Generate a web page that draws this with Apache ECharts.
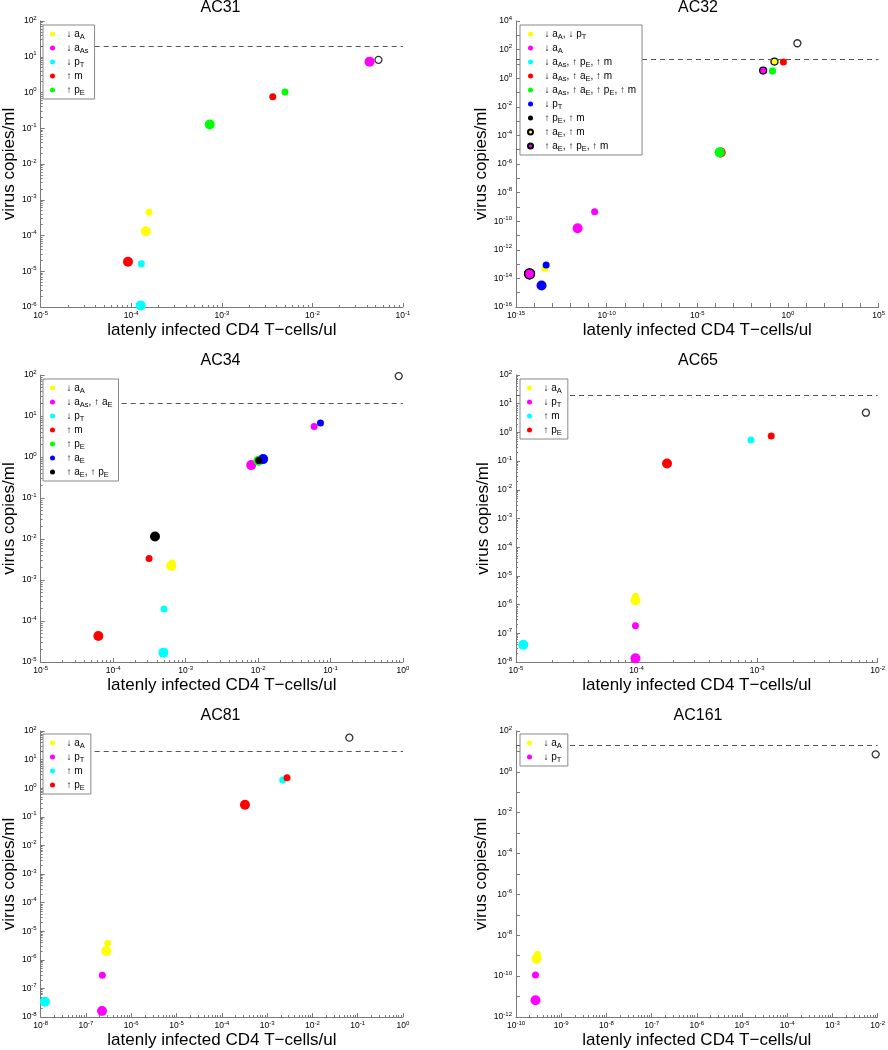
<!DOCTYPE html>
<html><head><meta charset="utf-8">
<script src="https://cdn.jsdelivr.net/npm/echarts@6/dist/echarts.min.js"></script>
<style>html,body{margin:0;padding:0;background:#fff}#c{width:888px;height:1050px}</style>
</head><body><div id="c"></div>
<script>
// ---------------- DATA ----------------
const threshold = 20; // dashed line, virus copies/ml
const xLabel = 'latenly infected CD4 T\u2212cells/ul';
const yLabel = 'virus copies/ml';

// Axis ranges (powers of ten) and label steps (in decades)
const titles   = ['AC31', 'AC32', 'AC34', 'AC65', 'AC81', 'AC161'];
const xMinExp  = [-5, -15, -5, -5, -8, -10];
const xMaxExp  = [-1,   5,  0, -2,  0,  -2];
const yMinExp  = [-6, -16, -5, -8, -8, -12];
const yMaxExp  = [ 2,   4,  2,  2,  2,   2];
const xLabelStep = [1, 5, 1, 1, 1, 1];
const yLabelStep = [1, 2, 1, 1, 1, 2];

// Each legend entry: [first (small) point, second (large) point] as [x, y]
const ac31_names = ['\u2193 a{sub|A}', '\u2193 a{sub|As}', '\u2193 p{sub|T}', '\u2191 m', '\u2191 p{sub|E}'];
const ac31_points = [
  [[1.57e-4, 4.5e-4], [1.45e-4, 1.32e-4]],
  [[0.0440, 7.4], [0.0427, 7.3]],
  [[1.29e-4, 1.62e-5], [1.27e-4, 1.11e-6]],
  [[3.65e-3, 0.757], [9.2e-5, 1.84e-5]],
  [[4.98e-3, 1.04], [7.35e-4, 0.128]]
];
const ac31_base = [0.0536, 8.2];

const ac32_names = [
  '\u2193 a{sub|A}, \u2193 p{sub|T}', '\u2193 a{sub|A}',
  '\u2193 a{sub|As}, \u2191 p{sub|E}, \u2191 m', '\u2193 a{sub|As}, \u2191 a{sub|E}, \u2191 m',
  '\u2193 a{sub|As}, \u2191 a{sub|E}, \u2191 p{sub|E}, \u2191 m', '\u2193 p{sub|T}',
  '\u2191 p{sub|E}, \u2191 m', '\u2191 a{sub|E}, \u2191 m', '\u2191 a{sub|E}, \u2191 p{sub|E}, \u2191 m'
];
const ac32_points = [
  [[3.9e-14, 5.0e-14], [2.6e-14, 3.2e-15]],
  [[2.17e-11, 4.5e-10], [2.5e-12, 3.2e-11]],
  [[0.14, 3.25], [1.72e-4, 6.5e-6]],
  [[0.56, 13.8], [1.95e-4, 6.5e-6]],
  [[0.14, 3.25], [1.72e-4, 6.5e-6]],
  [[4.6e-14, 8.5e-14], [2.56e-14, 3.2e-15]],
  [[0.043, 3.4], [5.6e-15, 2.1e-14]],
  [[0.18, 14.5], [5.6e-15, 2.1e-14]],
  [[0.043, 3.4], [5.6e-15, 2.1e-14]]
];
const ac32_base = [3.3, 277];

const ac34_names = ['\u2193 a{sub|A}', '\u2193 a{sub|As}, \u2191 a{sub|E}', '\u2193 p{sub|T}', '\u2191 m',
  '\u2191 p{sub|E}', '\u2191 a{sub|E}', '\u2191 a{sub|E}, \u2191 p{sub|E}'];
const ac34_points = [
  [[6.5e-4, 2.6e-3], [6.34e-4, 2.21e-3]],
  [[0.0594, 5.58], [0.00804, 0.634]],
  [[5.04e-4, 1.97e-4], [4.93e-4, 1.69e-5]],
  [[3.13e-4, 3.33e-3], [6.25e-5, 4.3e-5]],
  [[0.0115, 0.88], [0.0101, 0.81]],
  [[0.0726, 6.73], [0.01175, 0.889]],
  [[0.0102, 0.82], [3.78e-4, 0.0115]]
];
const ac34_base = [0.873, 94];

const ac65_names = ['\u2193 a{sub|A}', '\u2193 p{sub|T}', '\u2191 m', '\u2191 p{sub|E}'];
const ac65_points = [
  [[9.8e-5, 1.95e-6], [9.8e-5, 1.38e-6]],
  [[9.8e-5, 1.85e-7], [9.8e-5, 1.34e-8]],
  [[8.9e-4, 0.54], [1.15e-5, 4.0e-8]],
  [[1.31e-3, 0.745], [1.79e-4, 0.083]]
];
const ac65_base = [8.0e-3, 4.85];

const ac81_names = ['\u2193 a{sub|A}', '\u2193 p{sub|T}', '\u2191 m', '\u2191 p{sub|E}'];
const ac81_points = [
  [[3.01e-7, 3.77e-6], [2.81e-7, 2.03e-6]],
  [[2.3e-7, 2.86e-7], [2.26e-7, 1.62e-8]],
  [[2.21e-3, 1.94], [1.24e-8, 3.44e-8]],
  [[2.75e-3, 2.33], [3.24e-4, 0.265]]
];
const ac81_base = [0.0653, 58.5];

const ac161_names = ['\u2193 a{sub|A}', '\u2193 p{sub|T}'];
const ac161_points = [
  [[2.99e-10, 1.17e-9], [2.84e-10, 7.2e-10]],
  [[2.7e-10, 1.14e-10], [2.7e-10, 6.6e-12]]
];
const ac161_base = [9.06e-3, 7.2];

// ---------------- STYLES ----------------
const Y = '#ffff00', M = '#ff00ff', Cc = '#00ffff', R = '#ff0000', G = '#00ff00', B = '#0000ff', K = '#000000';
const ac31_colors = [Y, M, Cc, R, G];
const ac32_colors = [Y, M, Cc, R, G, B, K, Y, M];
const ac32_edges  = [0, 0, 0, 0, 0, 0, 0, 1, 1];
const ac34_colors = [Y, M, Cc, R, G, B, K];
const ac65_colors = [Y, M, Cc, R];
const ac81_colors = [Y, M, Cc, R];
const ac161_colors = [Y, M];

const panels = [
  {names: ac31_names, pts: ac31_points, base: ac31_base, colors: ac31_colors},
  {names: ac32_names, pts: ac32_points, base: ac32_base, colors: ac32_colors, edges: ac32_edges},
  {names: ac34_names, pts: ac34_points, base: ac34_base, colors: ac34_colors},
  {names: ac65_names, pts: ac65_points, base: ac65_base, colors: ac65_colors},
  {names: ac81_names, pts: ac81_points, base: ac81_base, colors: ac81_colors},
  {names: ac161_names, pts: ac161_points, base: ac161_base, colors: ac161_colors}
];

const grids = [
  {left: 38, top: 21, width: 365, height: 286},
  {left: 516, top: 21, width: 364, height: 286},
  {left: 38, top: 375, width: 365, height: 287},
  {left: 516, top: 375, width: 364, height: 287},
  {left: 38, top: 731, width: 365, height: 286},
  {left: 516, top: 731, width: 364, height: 286}
];
const titleTop = [0, 0, 353, 353, 708, 708];
const yNameGap = [20, 24, 20, 24, 20, 24];

const FONT = 'Liberation Sans, Arial, Helvetica, sans-serif';
const AXIS_COLOR = '#7a7a7a';
const SMALL = 7, LARGE = 10;

function labelFmt(step) {
  return function (v) {
    const e = Math.round(Math.log10(v));
    if (e % step !== 0) return '';
    return '{b|10}{sup|' + e + '}';
  };
}
const tickRich = {
  b: {fontSize: 8.5, lineHeight: 12, color: '#000', fontFamily: FONT},
  sup: {fontSize: 6, lineHeight: 6, verticalAlign: 'top', color: '#000', fontFamily: FONT}
};

const option = {
  animation: false,
  backgroundColor: '#fff',
  textStyle: {fontFamily: FONT},
  title: [], grid: [], xAxis: [], yAxis: [], legend: [], series: []
};

panels.forEach((p, i) => {
  const g = grids[i];
  option.grid.push(Object.assign({containLabel: false}, g));
  option.title.push({
    text: titles[i], left: g.left + g.width / 2, top: titleTop[i], textAlign: 'center', padding: 0,
    textStyle: {fontSize: 16, fontWeight: 'normal', color: '#000', fontFamily: FONT}
  });
  const axisCommon = {
    type: 'log', logBase: 10, gridIndex: i,
    splitLine: {show: false},
    axisLine: {show: true, onZero: false, lineStyle: {color: AXIS_COLOR, width: 1}},
    axisTick: {show: true, inside: true, length: 4, lineStyle: {color: AXIS_COLOR}},
    nameTextStyle: {fontSize: 17, color: '#000', fontFamily: FONT},
    nameLocation: 'middle'
  };
  option.xAxis.push(Object.assign({}, axisCommon, {
    min: Math.pow(10, xMinExp[i]), max: Math.pow(10, xMaxExp[i]), interval: 1,
    name: xLabel, nameGap: 15,
    minorTick: {show: xLabelStep[i] === 1, splitNumber: 9, length: 2, lineStyle: {color: AXIS_COLOR}},
    axisLabel: {formatter: labelFmt(xLabelStep[i]), rich: tickRich, margin: 3, hideOverlap: false, showMinLabel: true, showMaxLabel: true}
  }));
  option.yAxis.push(Object.assign({}, axisCommon, {
    min: Math.pow(10, yMinExp[i]), max: Math.pow(10, yMaxExp[i]), interval: 1,
    name: yLabel, nameGap: yNameGap[i],
    minorTick: {show: yLabelStep[i] === 1, splitNumber: 9, length: 2, lineStyle: {color: AXIS_COLOR}},
    axisLabel: {formatter: labelFmt(yLabelStep[i]), rich: tickRich, margin: 4, hideOverlap: false, showMinLabel: true, showMaxLabel: true}
  }));

  // baseline open circle + threshold line
  option.series.push({
    type: 'scatter', name: titles[i] + '#base', xAxisIndex: i, yAxisIndex: i,
    data: [p.base], symbol: 'circle', symbolSize: 7, z: 2,
    itemStyle: {color: 'rgba(255,255,255,0)', borderColor: '#000', borderWidth: 1.3},
    markLine: {
      silent: true, symbol: ['none', 'none'], label: {show: false},
      lineStyle: {type: [5, 4], color: '#555', width: 1},
      data: [{yAxis: threshold}]
    }
  });

  const legendNames = [];
  p.names.forEach((nm, k) => {
    const sname = titles[i] + '#' + nm;
    legendNames.push(sname);
    const edge = p.edges && p.edges[k];
    option.series.push({
      type: 'scatter', name: sname, xAxisIndex: i, yAxisIndex: i,
      data: p.pts[k], symbol: 'circle', z: 3,
      symbolSize: (val, params) => params.dataIndex === 0 ? SMALL : LARGE,
      itemStyle: edge ? {color: p.colors[k], borderColor: '#000', borderWidth: 1.2, opacity: 1}
                      : {color: p.colors[k], borderWidth: 0, opacity: 1}
    });
  });

  option.legend.push({
    data: legendNames, orient: 'vertical',
    left: [43, 520, 43, 520, 43, 520][i], top: [25, 25, 379, 379, 734, 734][i],
    itemWidth: 18, itemHeight: 5, itemGap: 0, padding: [2, 6, 2, 7],
    backgroundColor: '#fff', borderColor: '#888', borderWidth: 1, borderRadius: 0,
    selectedMode: false, z: 10,
    formatter: n => n.slice(n.indexOf('#') + 1),
    textStyle: {
      fontSize: 10, lineHeight: 14, color: '#000', fontFamily: FONT,
      rich: {sub: {fontSize: 7.5, lineHeight: 7, verticalAlign: 'bottom', color: '#000', fontFamily: FONT}}
    }
  });
});

const chart = echarts.init(document.getElementById('c'), null, {renderer: 'canvas'});
chart.setOption(option);
</script>
</body></html>
